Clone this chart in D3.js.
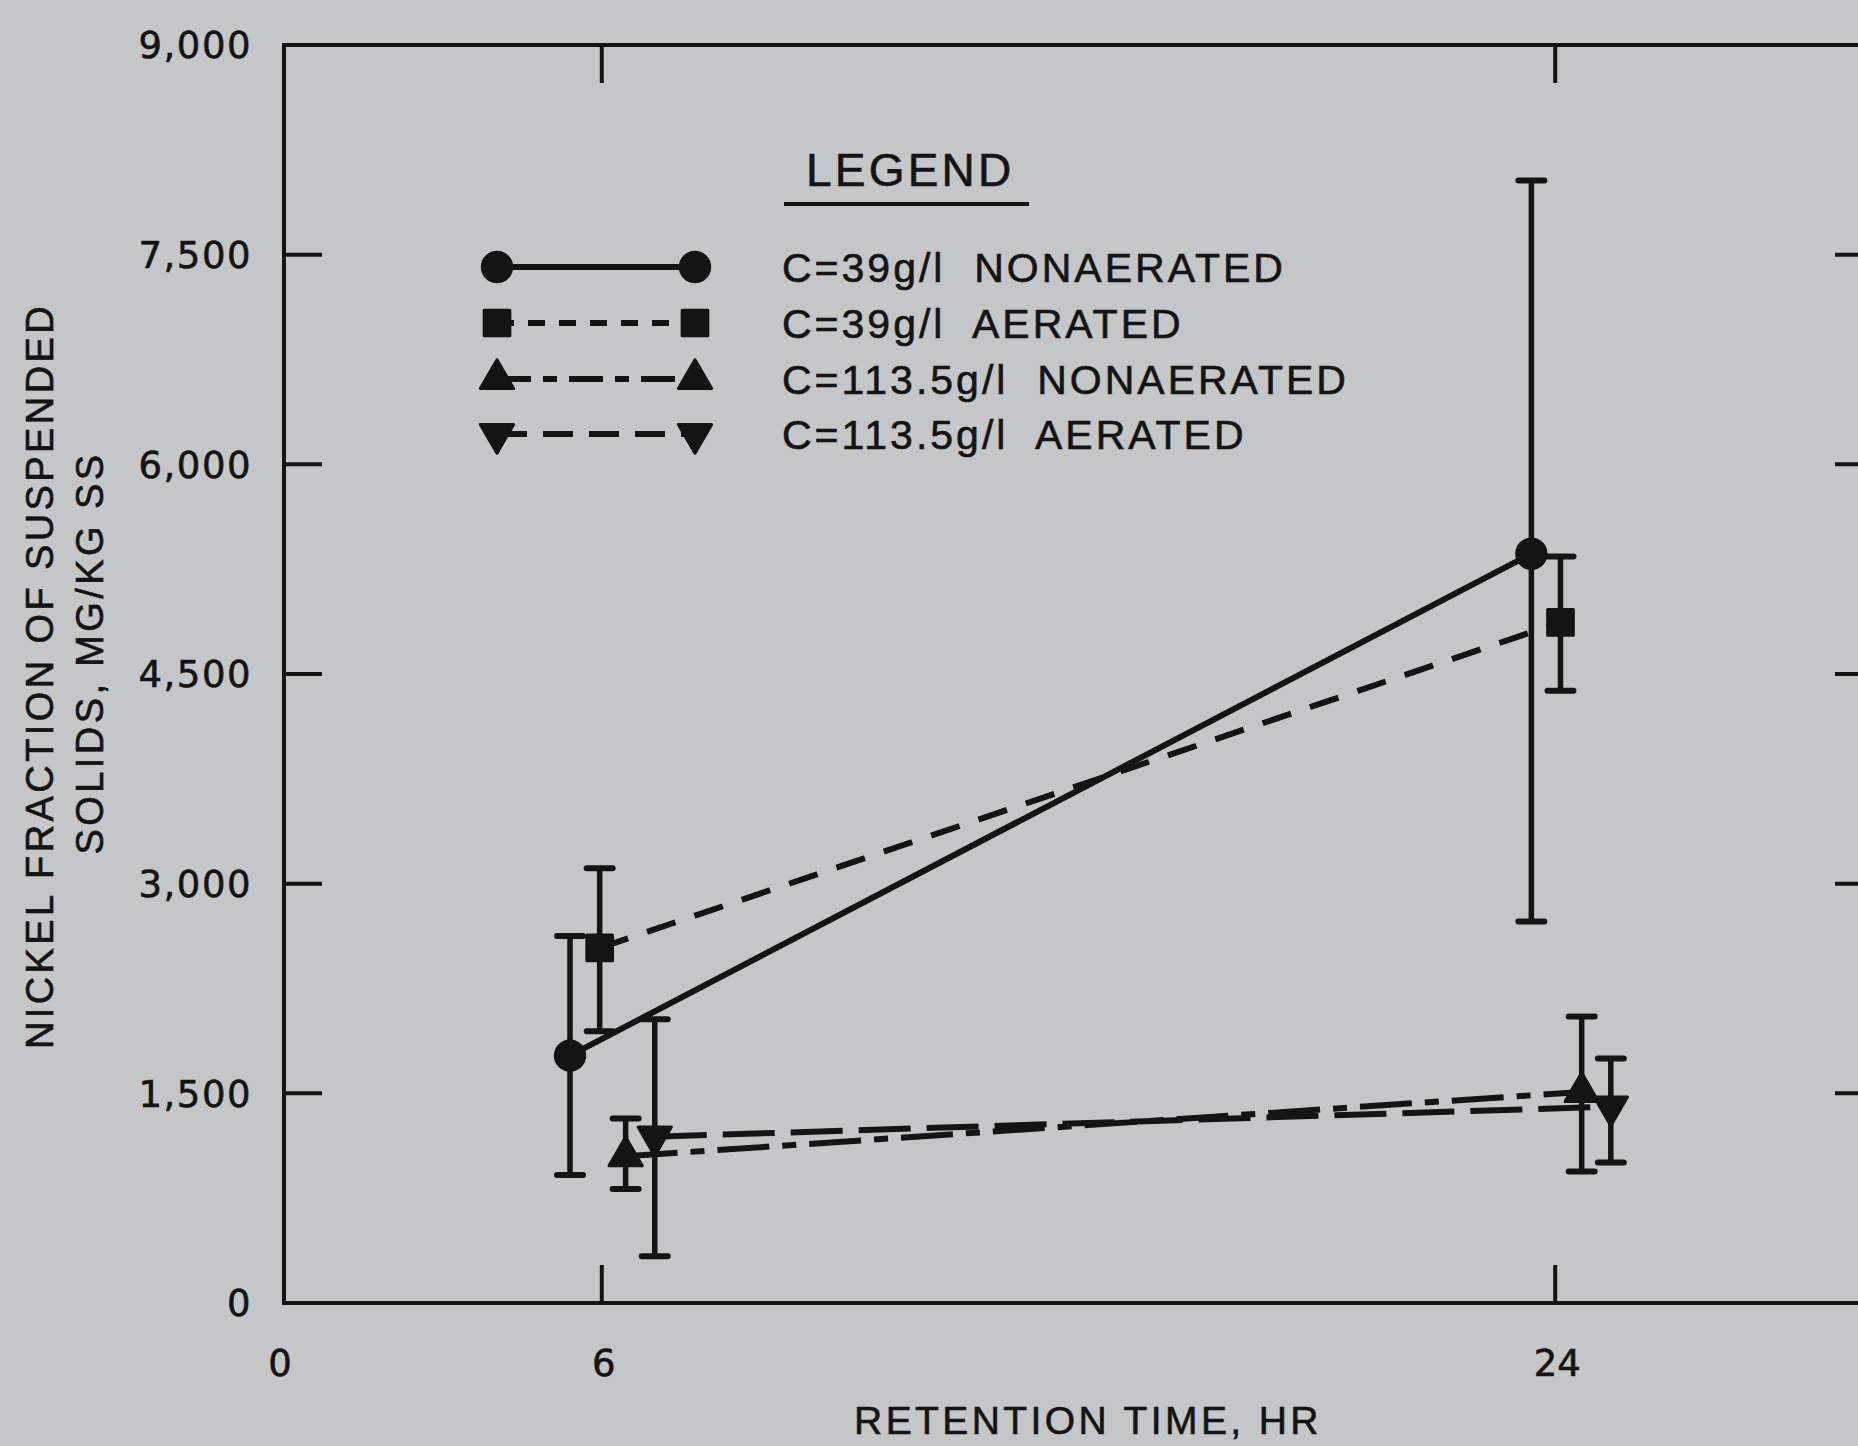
<!DOCTYPE html>
<html>
<head>
<meta charset="utf-8">
<script src="https://cdn.jsdelivr.net/npm/d3@7"></script>
<style>
  html, body { margin: 0; padding: 0; background: #c4c6c8; }
  svg { display: block; }
</style>
</head>
<body>
<script>
// ---------- data ----------
const timeTicks = [0, 6, 24];
const frameTimeTicks = [6, 24];
const valueTicks = [0, 1500, 3000, 4500, 6000, 7500, 9000];
const innerValueTicks = [1500, 3000, 4500, 6000, 7500];

const seriesLabels = [
  "C=39g/l  NONAERATED",
  "C=39g/l  AERATED",
  "C=113.5g/l  NONAERATED",
  "C=113.5g/l  AERATED"
];
const seriesSymbols = ["circle", "square", "triangle", "invtriangle"];
// plotted retention times (points are drawn slightly offset around 6 and 24 hr)
const seriesTimes = [[5.4, 23.55], [5.96, 24.1], [6.45, 24.5], [7.0, 25.05]];
const seriesMeans = [[1770, 5360], [2540, 4870], [1050, 1510], [1190, 1405]];
const seriesLow   = [[915, 2730], [1945, 4380], [815, 940], [335, 1005]];
const seriesHigh  = [[2625, 8030], [3110, 5340], [1320, 2050], [2030, 1750]];

// ---------- layout / style ----------
const W = 1858, H = 1446;
const plotDash = ["none", "30,20", "52,13,14,13", "52,16"];
const legendDash = ["none", "17,14", "34,12,14,12", "30,16"];
const ink = "#141414";

const svg = d3.select("body").append("svg").attr("width", W).attr("height", H);
svg.append("rect").attr("width", W).attr("height", H).attr("fill", "#c4c6c8");

const x = d3.scaleLinear().domain([0, 30]).range([284, 1873]);
const y = d3.scaleLinear().domain([0, 9000]).range([1303, 45]);

// frame
const g = svg.append("g");
g.append("rect")
  .attr("x", x(0)).attr("y", y(9000))
  .attr("width", x(30) - x(0)).attr("height", y(0) - y(9000))
  .attr("fill", "none").attr("stroke", ink).attr("stroke-width", 4);

const tl = 38;
g.selectAll(".lt").data(innerValueTicks).join("line")
  .attr("x1", x(0)).attr("x2", x(0) + tl)
  .attr("y1", d => y(d)).attr("y2", d => y(d))
  .attr("stroke", ink).attr("stroke-width", 4);
g.selectAll(".rt").data(innerValueTicks).join("line")
  .attr("x1", x(30)).attr("x2", x(30) - tl)
  .attr("y1", d => y(d)).attr("y2", d => y(d))
  .attr("stroke", ink).attr("stroke-width", 4);
g.selectAll(".bt").data(frameTimeTicks).join("line")
  .attr("x1", d => x(d)).attr("x2", d => x(d))
  .attr("y1", y(0)).attr("y2", y(0) - tl)
  .attr("stroke", ink).attr("stroke-width", 4);
g.selectAll(".tt").data(frameTimeTicks).join("line")
  .attr("x1", d => x(d)).attr("x2", d => x(d))
  .attr("y1", y(9000)).attr("y2", y(9000) + tl)
  .attr("stroke", ink).attr("stroke-width", 4);

// tick labels
const fmt = d3.format(",");
g.selectAll(".yl").data(valueTicks).join("text")
  .attr("x", 252).attr("y", d => y(d))
  .attr("dy", "0.36em")
  .attr("text-anchor", "end")
  .attr("font-family", "DejaVu Sans, sans-serif")
  .attr("font-size", 37).attr("letter-spacing", 1.5)
  .attr("fill", ink).attr("stroke", ink).attr("stroke-width", 0.6)
  .text(d => fmt(d));

g.selectAll(".xl").data(timeTicks).join("text")
  .attr("x", d => x(d) + (d === 0 ? -4 : 2)).attr("y", 1363)
  .attr("dy", "0.36em")
  .attr("text-anchor", "middle")
  .attr("font-family", "DejaVu Sans, sans-serif")
  .attr("font-size", 37)
  .attr("fill", ink).attr("stroke", ink).attr("stroke-width", 0.6)
  .text(d => d);

// axis titles
svg.append("text")
  .attr("x", 1088).attr("y", 1420).attr("dy", "0.36em")
  .attr("text-anchor", "middle")
  .attr("font-family", "Liberation Sans, Arial, sans-serif")
  .attr("font-size", 39).attr("letter-spacing", 3.4)
  .attr("fill", ink).attr("stroke", ink).attr("stroke-width", 0.6)
  .text("RETENTION TIME, HR");

svg.append("text")
  .attr("transform", "translate(39,676) rotate(-90)")
  .attr("dy", "0.36em")
  .attr("text-anchor", "middle")
  .attr("font-family", "Liberation Sans, Arial, sans-serif")
  .attr("font-size", 38).attr("letter-spacing", 3.4)
  .attr("fill", ink).attr("stroke", ink).attr("stroke-width", 0.6)
  .text("NICKEL FRACTION OF SUSPENDED");
svg.append("text")
  .attr("transform", "translate(89,653) rotate(-90)")
  .attr("dy", "0.36em")
  .attr("text-anchor", "middle")
  .attr("font-family", "Liberation Sans, Arial, sans-serif")
  .attr("font-size", 38).attr("letter-spacing", 3.4)
  .attr("fill", ink).attr("stroke", ink).attr("stroke-width", 0.6)
  .text("SOLIDS, MG/KG SS");

// symbols
function symbolPath(kind) {
  if (kind === "circle") return d3.symbol(d3.symbolCircle, 680)();
  if (kind === "square") return d3.symbol(d3.symbolSquare, 660)();
  return d3.symbol(d3.symbolTriangle, 480)();
}
function drawMarker(sel, kind, cx, cy) {
  sel.append("path")
    .attr("d", symbolPath(kind))
    .attr("transform", `translate(${cx},${cy})` + (kind === "invtriangle" ? " rotate(180)" : ""))
    .attr("fill", ink).attr("stroke", ink)
    .attr("stroke-width", 3).attr("stroke-linejoin", "round");
}

// series lines
const lineGen = d3.line().x(d => x(d[0])).y(d => y(d[1]));
seriesLabels.forEach((lab, i) => {
  const pts = seriesTimes[i].map((t, j) => [t, seriesMeans[i][j]]);
  svg.append("path")
    .attr("d", lineGen(pts))
    .attr("fill", "none").attr("stroke", ink).attr("stroke-width", 6)
    .attr("stroke-dasharray", plotDash[i]);
});

// error bars
const cap = 13;
seriesLabels.forEach((lab, i) => {
  seriesTimes[i].forEach((t, j) => {
    const cx = x(t);
    svg.append("line")
      .attr("x1", cx).attr("x2", cx)
      .attr("y1", y(seriesLow[i][j])).attr("y2", y(seriesHigh[i][j]))
      .attr("stroke", ink).attr("stroke-width", 5.5);
    [seriesLow[i][j], seriesHigh[i][j]].forEach(v => {
      svg.append("line")
        .attr("x1", cx - cap).attr("x2", cx + cap)
        .attr("y1", y(v)).attr("y2", y(v))
        .attr("stroke", ink).attr("stroke-width", 6).attr("stroke-linecap", "round");
    });
  });
});

// markers
seriesLabels.forEach((lab, i) => {
  seriesTimes[i].forEach((t, j) => {
    drawMarker(svg, seriesSymbols[i], x(t), y(seriesMeans[i][j]));
  });
});

// legend
const lg = svg.append("g");
lg.append("text")
  .attr("x", 806).attr("y", 186)
  .attr("font-family", "Liberation Sans, Arial, sans-serif")
  .attr("font-size", 46).attr("letter-spacing", 3.2)
  .attr("fill", ink).attr("stroke", ink).attr("stroke-width", 0.6)
  .text("LEGEND");
lg.append("line")
  .attr("x1", 784).attr("x2", 1029).attr("y1", 204).attr("y2", 204)
  .attr("stroke", ink).attr("stroke-width", 4);

const rowY = [267, 323, 379, 434];
seriesLabels.forEach((lab, i) => {
  const yy = rowY[i];
  lg.append("line")
    .attr("x1", 497).attr("x2", 695).attr("y1", yy).attr("y2", yy)
    .attr("stroke", ink).attr("stroke-width", 6)
    .attr("stroke-dasharray", legendDash[i]);
  drawMarker(lg, seriesSymbols[i], 497, yy);
  drawMarker(lg, seriesSymbols[i], 695, yy);
  lg.append("text")
    .attr("x", 782).attr("y", yy).attr("dy", "0.36em")
    .attr("font-family", "Liberation Sans, Arial, sans-serif")
    .attr("font-size", 41).attr("letter-spacing", 3)
    .attr("fill", ink).attr("stroke", ink).attr("stroke-width", 0.6)
    .attr("xml:space", "preserve")
    .style("white-space", "pre")
    .text(lab);
});
</script>
</body>
</html>
